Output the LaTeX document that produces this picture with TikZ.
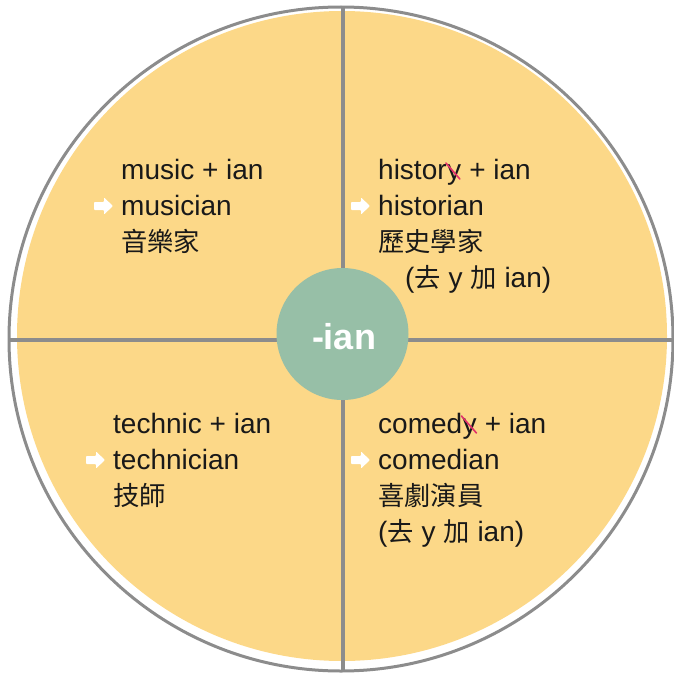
\documentclass[tikz,border=0pt]{standalone}
\usepackage{fontspec}
\setmainfont{Liberation Sans}
\newfontfamily\cjk{Noto Sans CJK TC}[Scale=0.94]
\definecolor{petal}{HTML}{FCD888}
\definecolor{rim}{HTML}{8C8C8C}
\definecolor{hub}{HTML}{97BFA7}
\definecolor{strk}{HTML}{E2306A}
\begin{document}
\begin{tikzpicture}[x=1pt,y=-1pt,
  txt/.style={anchor=base west, inner sep=0pt, font=\fontsize{28}{34}\selectfont, text=black!90},
  goarrow/.pic={\fill[white, rounded corners=0.8pt] (0,0) -- (-9,-8.5) -- (-9,-4) -- (-19,-4)
     -- (-19,4) -- (-9,4) -- (-9,8.5) -- cycle;},
  strike/.style={strk, line width=1.6pt, line cap=round},
  divider/.style={rim, line width=3.5pt}]
\useasboundingbox (0,0) rectangle (674,677);
% disc
\fill[petal] (342,336) circle[radius=325];
\draw[rim, line width=3pt] (341,339) circle[radius=332];
% cross
\coordinate (ctop) at (343,7);
\coordinate (cbot) at (343,671);
\coordinate (cleft) at (9,340);
\coordinate (cright) at (673,340);
\draw[divider] (ctop) -- (cbot);
\draw[divider] (cleft) -- (cright);
% hub
\node[circle, fill=hub, minimum size=132pt, inner sep=0pt] (hub) at (342.5,334) {};
\node[text=white, inner sep=0pt, font=\bfseries\fontsize{36}{36}\selectfont] (hubtxt) at (344,337) {-ian};
% top left
\node[txt] (tl1) at (121,179) {music + ian};
\node[txt] (tl2) at (121,215) {musician};
\node[txt] (tl3) at (121,251) {\cjk 音樂家};
\coordinate (tla) at ([xshift=-8pt,yshift=9pt]tl2.base west);
\pic at (tla) {goarrow};
% top right
\node[txt] (tr1a) at (378,179) {histor};
\node[txt] (tr1y) at (tr1a.base east) {y};
\node[txt] (tr1b) at (tr1y.base east) {\ + ian};
\draw[strike] ([xshift=-1pt,yshift=16pt]tr1y.base west) -- ([xshift=13pt,yshift=0pt]tr1y.base west);
\node[txt] (tr2) at (378,215) {historian};
\node[txt] (tr3) at (378,251) {\cjk 歷史學家};
\node[txt] (tr4) at (405,287) {({\cjk 去} y {\cjk 加} ian)};
\coordinate (tra) at ([xshift=-8pt,yshift=9pt]tr2.base west);
\pic at (tra) {goarrow};
% bottom left
\node[txt] (bl1) at (113,433) {technic + ian};
\node[txt] (bl2) at (113,469) {technician};
\node[txt] (bl3) at (113,505) {\cjk 技師};
\coordinate (bla) at ([xshift=-8pt,yshift=9pt]bl2.base west);
\pic at (bla) {goarrow};
% bottom right
\node[txt] (br1a) at (378,433) {comed};
\node[txt] (br1y) at (br1a.base east) {y};
\node[txt] (br1b) at (br1y.base east) {\ + ian};
\draw[strike] ([xshift=-1pt,yshift=17pt]br1y.base west) -- ([xshift=14pt,yshift=0pt]br1y.base west);
\node[txt] (br2) at (378,469) {comedian};
\node[txt] (br3) at (378,505) {\cjk 喜劇演員};
\node[txt] (br4) at (378,541) {({\cjk 去} y {\cjk 加} ian)};
\coordinate (bra) at ([xshift=-8pt,yshift=9pt]br2.base west);
\pic at (bra) {goarrow};
\end{tikzpicture}
\end{document}
